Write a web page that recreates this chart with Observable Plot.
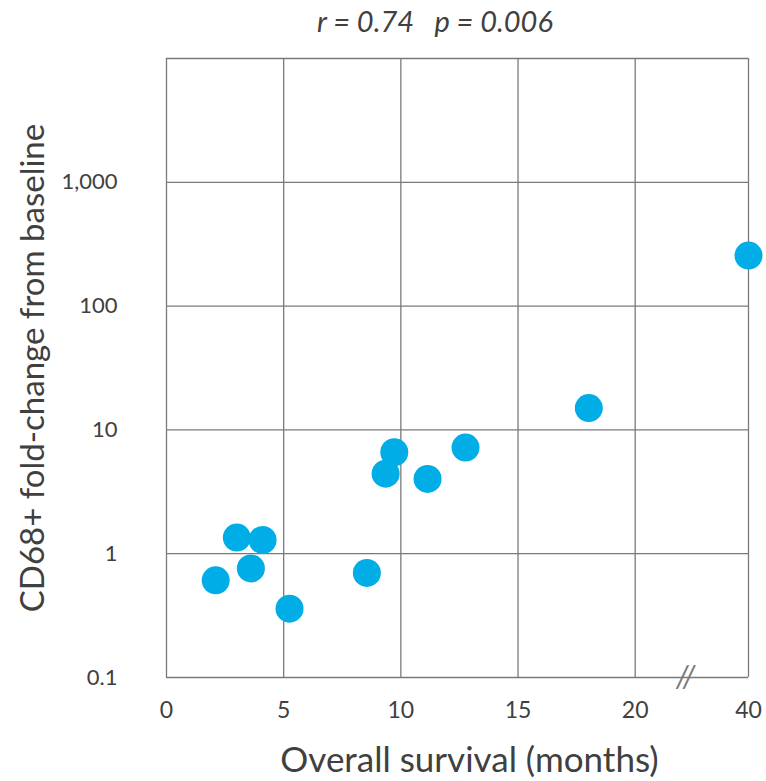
<!DOCTYPE html>
<html>
<head>
<meta charset="utf-8">
<script src="https://cdn.jsdelivr.net/npm/d3@7"></script>
<script src="https://cdn.jsdelivr.net/npm/@observablehq/plot@0.6"></script>
<style>
  html, body { margin: 0; padding: 0; background: #fff; }
  #title { height: 40px; width: 766px; box-sizing: border-box; padding-left: 104px; text-align: center;
    font-family: Lato, sans-serif; font-style: italic; font-size: 29px; color: #404040;
    line-height: 42px; white-space: pre; }
</style>
</head>
<body>
<div id="title">r = 0.74   p = 0.006</div>
<div id="chart"></div>
<script>
// Data
const survival   = [2.1, 3.0, 3.6, 4.1, 5.25, 8.55, 9.35, 9.72, 11.14, 12.76, 18.02, 40];
const foldChange = [0.61, 1.35, 0.76, 1.29, 0.36, 0.70, 4.43, 6.6, 4.02, 7.2, 15.0, 256];
const xTicks = [0, 5, 10, 15, 20, 40];
const yTicks = [0.1, 1, 10, 100, 1000];
const yGrid  = [0.1, 1, 10, 100, 1000, 10000];
const xLabel = "Overall survival (months)";
const yLabel = "CD68+ fold-change from baseline";
const breakAt = [{x: 28.9, y: 0.1, t: "//"}];

const points = survival.map((s, i) => ({survival: s, fold: foldChange[i]}));

const W = 766, H = 741;
const mL = 166, mR = 18, mT = 18, mB = 104;
const fmt = d3.format(",");

const chart = Plot.plot({
  width: W, height: H,
  marginLeft: mL, marginRight: mR, marginTop: mT, marginBottom: mB,
  style: {fontFamily: "Lato, sans-serif", color: "#404040", background: "#fff"},
  x: {type: "linear", domain: [0, 20, 40], range: [mL, 634.7, W - mR]},
  y: {type: "log", domain: [0.1, 10000]},
  marks: [
    Plot.gridX(xTicks, {stroke: "#7a7a7a", strokeOpacity: 1, strokeWidth: 1.3}),
    Plot.gridY(yGrid, {stroke: "#7a7a7a", strokeOpacity: 1, strokeWidth: 1.3}),
    Plot.axisX(xTicks, {tickSize: 0, tickPadding: 24, fontSize: 23, fill: "#404040", label: null}),
    Plot.axisY(yTicks, {tickSize: 0, tickPadding: 49, fontSize: 22, fill: "#404040", label: null, tickFormat: fmt}),
    Plot.text(breakAt, {x: "x", y: "y", text: "t", fontSize: 30, fill: "#7a7a7a", fontStyle: "italic", letterSpacing: "2px"}),
    Plot.dot(points, {x: "survival", y: "fold", r: 14, fill: "#00ADE6", stroke: "none"}),
    Plot.text([xLabel], {frameAnchor: "bottom", lineAnchor: "middle", textAnchor: "middle", dx: 12, dy: 83, fontSize: 35, fill: "#404040"}),
    Plot.text([yLabel], {frameAnchor: "left", textAnchor: "middle", lineAnchor: "middle", dx: -133, rotate: -90, fontSize: 33, fill: "#404040"})
  ]
});
document.getElementById("chart").appendChild(chart);
</script>
</body>
</html>
